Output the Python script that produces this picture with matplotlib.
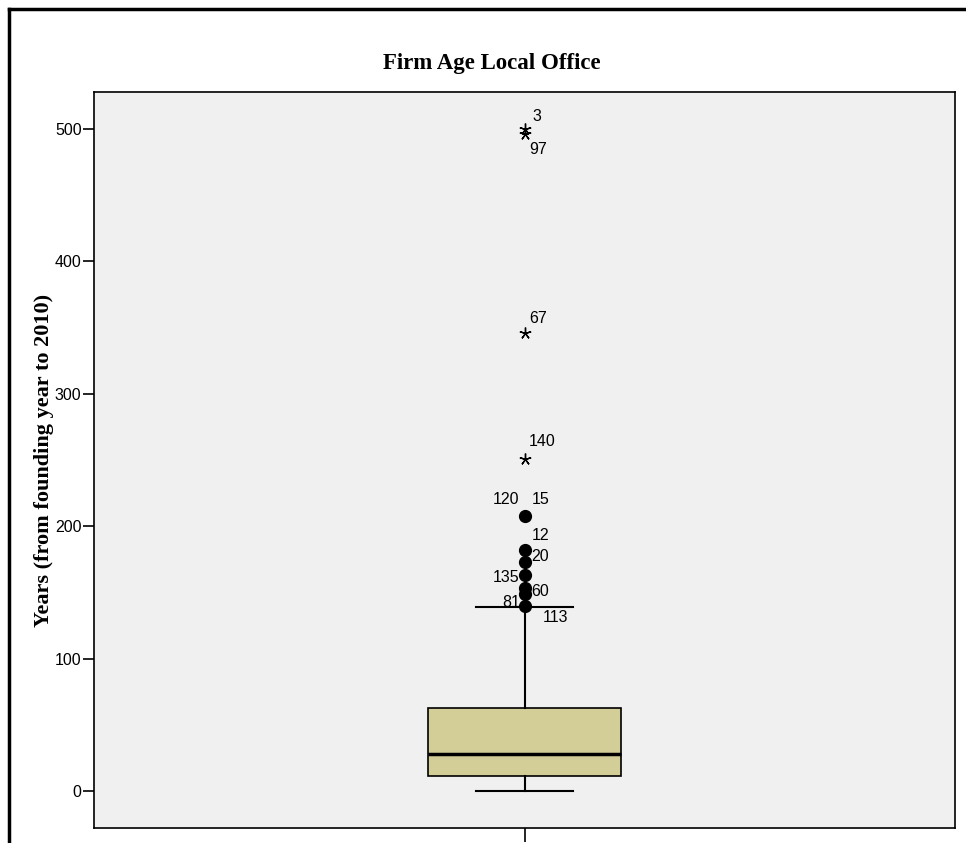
import matplotlib.pyplot as plt
from matplotlib.lines import Line2D

# box summary (years)
q1, med, q3 = 11.3, 28, 62.7
whislo, whishi = 0, 139

# outliers (circles) and extremes (stars), with case ids
out_vals = [208, 182, 173, 163, 153, 149, 140]
ext_vals = [500, 496, 346, 251]

case_ids = ["3", "97", "67", "140", "120", "15", "12", "20", "135", "60", "81", "113"]
case_vals = [500, 496, 346, 251, 208, 208, 182, 173, 163, 153, 140, 140]

# label offsets in pixels from the point (dx, dy, ha)
label_offsets = {
    "3": (8, 13, 'left'), "97": (5, -15, 'left'), "67": (5, 14, 'left'),
    "140": (4, 17, 'left'), "120": (-5, 16, 'right'), "15": (7, 16, 'left'),
    "12": (7, 15, 'left'), "20": (7, 5, 'left'), "135": (-5, -2, 'right'),
    "60": (7, -3, 'left'), "81": (-4, 3, 'right'), "113": (18, -12, 'left'),
}

plt.rcParams['font.family'] = ['Liberation Sans', 'DejaVu Sans']

fig = plt.figure(figsize=(9.66, 8.43), dpi=100)
ax = fig.add_axes([94 / 966, 15 / 843, 861 / 966, 736 / 843])
ax.set_facecolor('#f0f0f0')

stats = [dict(med=med, q1=q1, q3=q3, whislo=whislo, whishi=whishi, fliers=[])]
ax.bxp(stats, positions=[0], widths=0.225, patch_artist=True, showfliers=False,
       boxprops=dict(facecolor='#d3ce98', edgecolor='black', linewidth=1.2),
       medianprops=dict(color='black', linewidth=2.5),
       whiskerprops=dict(color='black', linewidth=1.5),
       capprops=dict(color='black', linewidth=1.5),
       capwidths=0.112)

ax.plot([0] * len(out_vals), out_vals, 'o', color='black', markersize=8.5, zorder=5)
ax.plot([0] * len(ext_vals), ext_vals, linestyle='none', marker=(5, 2, 0),
        color='black', markersize=8.5, markeredgewidth=1.0, zorder=5)

for lab, v in zip(case_ids, case_vals):
    dx, dy, ha = label_offsets[lab]
    ax.annotate(lab, (0, v), xytext=(dx, dy), textcoords='offset pixels',
                ha=ha, va='center', fontsize=11.5)

ax.set_xlim(-0.5, 0.5)
ax.set_ylim(-28, 528)
ax.set_yticks([0, 100, 200, 300, 400, 500])
ax.tick_params(axis='y', direction='out', length=8, width=1.2, labelsize=11.5, pad=1)
ax.set_xticks([0])
ax.set_xticklabels([''])
ax.tick_params(axis='x', direction='out', length=10, width=1.2)
for s in ax.spines.values():
    s.set_linewidth(1.2)

ax.set_ylabel('Years (from founding year to 2010)', family=['Liberation Serif'],
              fontweight='bold', fontsize=16)
ax.yaxis.set_label_coords(-40 / 861, 0.5)
fig.text(492 / 966, 1 - 64 / 843, 'Firm Age Local Office', family=['Liberation Serif'],
         fontweight='bold', fontsize=16.5, ha='center', va='center')

# outer frame (top and left edges)
fig.add_artist(Line2D([9 / 966, 1], [1 - 9 / 843, 1 - 9 / 843], color='black', linewidth=2.5))
fig.add_artist(Line2D([9 / 966, 9 / 966], [0, 1 - 9 / 843], color='black', linewidth=2.5))

fig.savefig('out.png', dpi=100)
